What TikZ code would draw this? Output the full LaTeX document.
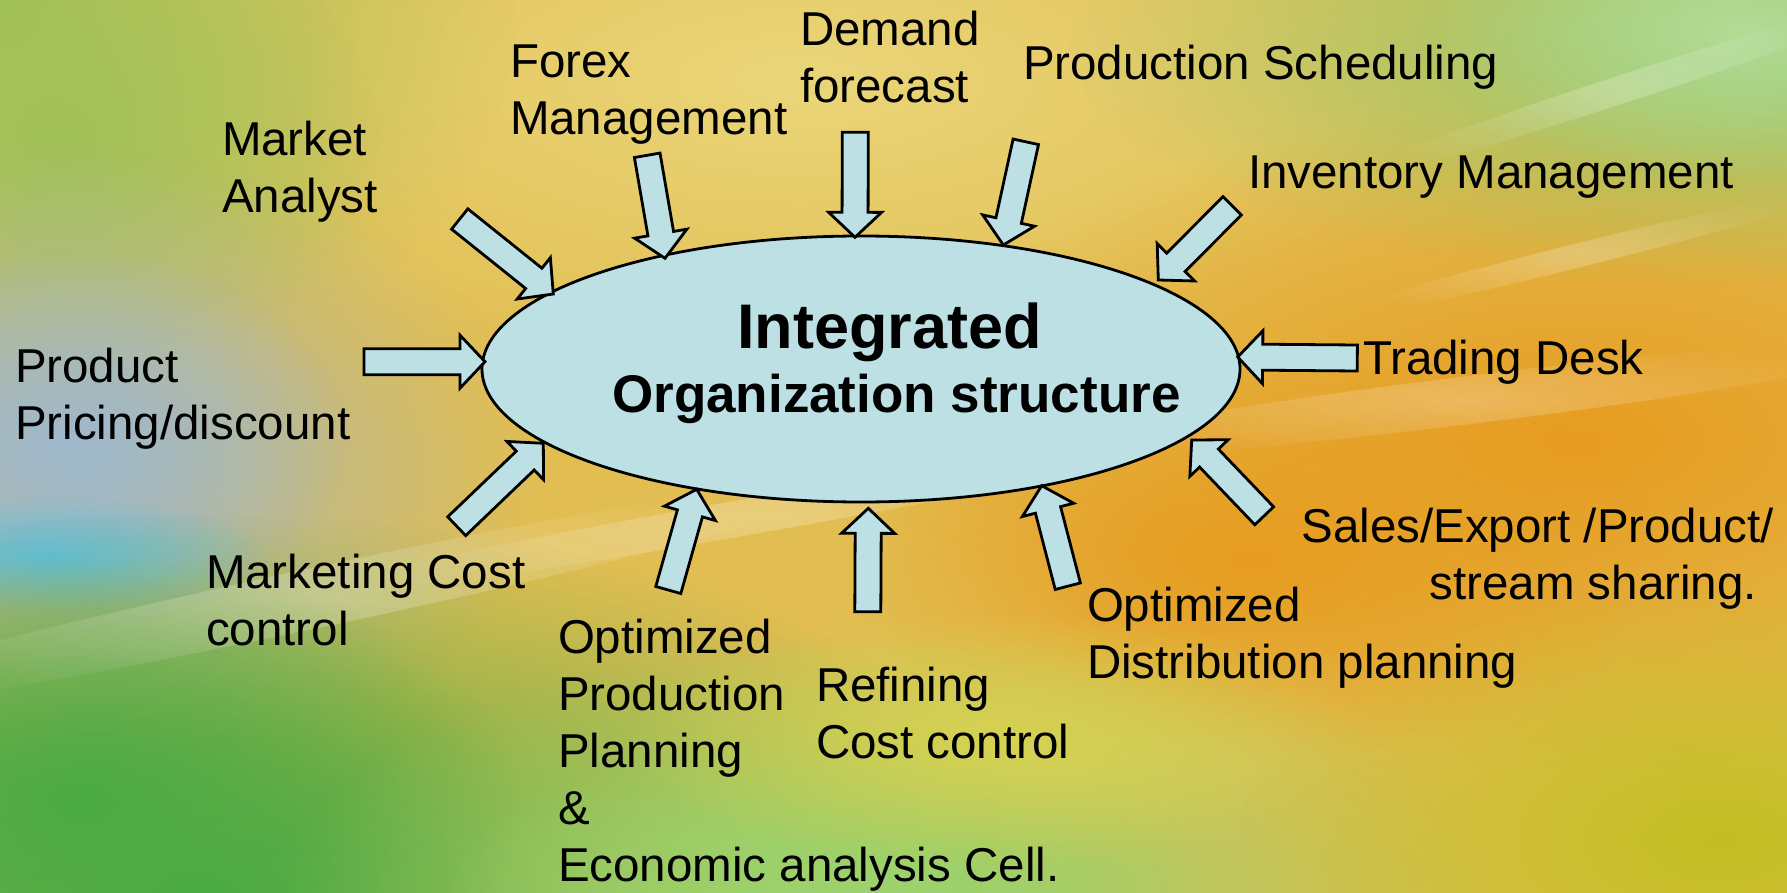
\documentclass[tikz,border=0pt]{standalone}
\usepackage{fontspec}
\setmainfont{Liberation Sans}
\usetikzlibrary{calc,fadings,shapes.geometric}

% palette
\definecolor{bgbase}{HTML}{E2BE52}
\definecolor{bgorange}{HTML}{E79C20}
\definecolor{bgyellow}{HTML}{EAD67A}
\definecolor{bgolive}{HTML}{A2C25A}
\definecolor{bggreen}{HTML}{8CC86E}
\definecolor{bgpale}{HTML}{B4DC96}
\definecolor{bgsteel}{HTML}{A6B8B4}
\definecolor{bgsky}{HTML}{A0B8CC}
\definecolor{bgcyan}{HTML}{62C0DC}
\definecolor{bgdeep}{HTML}{4AAA44}
\definecolor{bglime}{HTML}{9CD26C}
\definecolor{bgmustard}{HTML}{C2BE22}
\definecolor{bglemon}{HTML}{D6D252}
\definecolor{paleblue}{HTML}{BCE0E4}

% soft radial blob: opaque centre, transparent rim
\tikzfading[name=softblob, inner color=transparent!0, outer color=transparent!100]

\tikzset{
  glow/.style={fill=#1, path fading=softblob},
  streak/.style={fill=white, fill opacity=0.25, path fading=softblob},
  lbl/.style={anchor=base west, inner sep=0pt, outer sep=0pt, align=left,
              font=\fontsize{47.5}{57}\selectfont},
  hub/.style={ellipse, draw=black, line width=2.8pt, fill=paleblue,
              inner sep=0pt, outer sep=0pt},
  blockarrow/.style={draw=black, line width=2.8pt, fill=paleblue, line join=miter},
}

% block arrow from a tail coordinate #1 to a tip coordinate #2
\newcommand\feeder[2]{%
  \coordinate (#1-neck) at ($(#2)!25pt!(#1)$);
  \draw[blockarrow]
    ($(#1)!13pt!90:(#2)$) -- ($(#1-neck)!13pt!-90:(#1)$)
    -- ($(#1-neck)!26.5pt!-90:(#1)$) -- (#2)
    -- ($(#1-neck)!26.5pt!90:(#1)$) -- ($(#1-neck)!13pt!90:(#1)$)
    -- ($(#1)!13pt!-90:(#2)$) -- cycle;
}

\begin{document}
\begin{tikzpicture}[x=1pt,y=-1pt]
\useasboundingbox (0,0) rectangle (1787,893);

% ---- background wash ----
\fill[bgbase] (0,0) rectangle (1787,893);
\fill[glow=bgyellow] (800,80) ellipse [x radius=760, y radius=300];
\fill[glow=bgorange] (1580,440) ellipse [x radius=700, y radius=330];
\fill[glow=bgorange] (1250,560) ellipse [x radius=420, y radius=200];
\fill[glow=bgolive] (0,0) ellipse [x radius=520, y radius=420];
\fill[glow=bgolive] (60,140) ellipse [x radius=320, y radius=240];
\fill[glow=bggreen] (1787,40) ellipse [x radius=720, y radius=250];
\fill[glow=bgpale] (1740,30) ellipse [x radius=320, y radius=150];
\fill[glow=bgsteel] (80,470) ellipse [x radius=460, y radius=320];
\fill[glow=bgsky] (70,440) ellipse [x radius=280, y radius=190];
\fill[glow=bgcyan] (50,555) ellipse [x radius=220, y radius=60];
\fill[glow=bgdeep] (200,893) ellipse [x radius=860, y radius=380];
\fill[glow=bgdeep] (80,800) ellipse [x radius=440, y radius=240];
\fill[glow=bglime] (900,893) ellipse [x radius=620, y radius=260];
\fill[glow=bglime] (820,893) ellipse [x radius=380, y radius=160];
\fill[glow=bglemon] (1000,740) ellipse [x radius=380, y radius=130];
\fill[glow=bgmustard] (1720,840) ellipse [x radius=480, y radius=260];

% light streaks
\fill[streak, rotate around={12:(330,595)}] (330,595) ellipse [x radius=560, y radius=30];
\fill[streak, rotate around={10:(760,515)}] (760,515) ellipse [x radius=500, y radius=18];
\fill[streak, rotate around={7:(1470,400)}] (1470,400) ellipse [x radius=440, y radius=24];
\fill[streak, rotate around={18:(1620,90)}] (1620,90) ellipse [x radius=300, y radius=14];
\fill[streak, rotate around={14:(1580,255)}] (1580,255) ellipse [x radius=280, y radius=12];

% ---- central hub ----
\node[hub, minimum width=758pt, minimum height=266pt] (org) at (861,369) {};
\node[anchor=base west, inner sep=0pt, font=\fontsize{63}{70}\selectfont\bfseries]
  (title) at (737,348) {Integrated};
\node[anchor=base west, inner sep=0pt, font=\fontsize{53}{60}\selectfont\bfseries]
  (subtitle) at (612,412) {Organization structure};

% ---- functions feeding the hub (anchored on the last baseline) ----
\node[lbl] (market)    at (222,213)  {Market\\Analyst};
\node[lbl] (forex)     at (510,135)  {Forex\\Management};
\node[lbl] (demand)    at (800,103)  {Demand\\forecast};
\node[lbl] (prodsched) at (1023,80)  {Production Scheduling};
\node[lbl] (inventory) at (1248,189) {Inventory Management};
\node[lbl] (pricing)   at (15,439)   {Product\\Pricing/discount};
\node[lbl] (trading)   at (1363,374) {Trading Desk};
\node[lbl, anchor=base east, align=right] (sales) at (1774,599)
  {Sales/Export /Product/\\stream sharing.\hspace*{17pt}};
\node[lbl] (marketing) at (206,645)  {Marketing Cost\\control};
\node[lbl] (optprod)   at (558,881)  {Optimized\\Production\\Planning\\\&\\Economic analysis Cell.};
\node[lbl] (refining)  at (816,758)  {Refining\\Cost control};
\node[lbl] (optdist)   at (1087,678) {Optimized\\Distribution planning};

% arrow tails
\coordinate (t-market)    at (459.7,219);
\coordinate (t-forex)     at (647.2,155.3);
\coordinate (t-demand)    at (855.3,132.3);
\coordinate (t-prodsched) at (1025.8,141.8);
\coordinate (t-inventory) at (1232.2,205.8);
\coordinate (t-trading)   at (1357.3,358);
\coordinate (t-sales)     at (1264.2,515.8);
\coordinate (t-optdist)   at (1067.8,586.2);
\coordinate (t-refining)  at (867.8,611.7);
\coordinate (t-optprod)   at (668.3,590);
\coordinate (t-marketing) at (456.7,526.2);
\coordinate (t-pricing)   at (364,361.7);

% arrow tips on the hub outline
\coordinate (p-market)    at (553.3,294);
\coordinate (p-forex)     at (665,258.3);
\coordinate (p-demand)    at (855,237.3);
\coordinate (p-prodsched) at (1003.3,245);
\coordinate (p-inventory) at (1158.3,280);
\coordinate (p-trading)   at (1237.7,357);
\coordinate (p-sales)     at (1191.7,440);
\coordinate (p-optdist)   at (1041.7,485.7);
\coordinate (p-refining)  at (868.3,508.3);
\coordinate (p-optprod)   at (696.7,489.3);
\coordinate (p-marketing) at (543.3,443.3);
\coordinate (p-pricing)   at (485,361.7);

\foreach \f in {market,forex,demand,prodsched,inventory,trading,
                sales,optdist,refining,optprod,marketing,pricing}{
  \feeder{t-\f}{p-\f}
}
\end{tikzpicture}
\end{document}
